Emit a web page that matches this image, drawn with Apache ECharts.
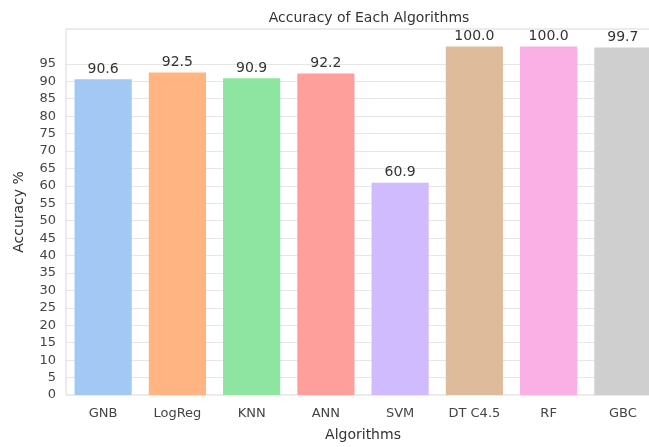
<!DOCTYPE html>
<html><head><meta charset="utf-8">
<script src="https://cdn.jsdelivr.net/npm/echarts@6/dist/echarts.min.js"></script>
<style>html,body{margin:0;padding:0;background:#fff;overflow:hidden;width:649px;height:447px}
#wrap{position:relative;width:649px;height:447px;overflow:hidden}
#c{position:absolute;left:0;top:0;width:662px;height:447px}</style>
</head><body><div id="wrap"><div id="c"></div></div>
<script>
const categories = ["GNB","LogReg","KNN","ANN","SVM","DT C4.5","RF","GBC"];
const accuracy = [90.6, 92.5, 90.9, 92.2, 60.9, 100.0, 100.0, 99.7];
const barColors = ["#a1c9f4","#ffb482","#8de5a1","#ff9f9b","#d0bbff","#debb9b","#fab0e4","#cfcfcf"];
const yMax = 105;
const yStep = 5;
const lastTick = 95;

const font = "DejaVu Sans";
const gridColors = [];
for (let v = 0; v <= yMax; v += yStep) gridColors.push(v <= lastTick && v > 0 ? "#e6e6e6" : "rgba(0,0,0,0)");

const chart = echarts.init(document.getElementById('c'), null, {renderer:'canvas'});
chart.setOption({
  animation:false,
  backgroundColor:'#fff',
  title:{text:'Accuracy of Each Algorithms', left:364, top:6, textAlign:'center',
    textStyle:{fontFamily:font, fontSize:14, fontWeight:'normal', color:'#333'}},
  grid:{left:66, top:29, width:594, height:368, show:true, borderColor:'#d8d8d8', borderWidth:1, backgroundColor:'#fff'},
  xAxis:{type:'category', data:categories,
    name:'Algorithms', nameLocation:'middle', nameGap:33,
    nameTextStyle:{fontFamily:font, fontSize:14, color:'#333'},
    axisLine:{show:false}, axisTick:{show:false},
    axisLabel:{fontFamily:font, fontSize:13, color:'#444', margin:12}},
  yAxis:{type:'value', min:0, max:yMax, interval:yStep,
    name:'Accuracy %', nameLocation:'middle', nameGap:40,
    nameTextStyle:{fontFamily:font, fontSize:14, color:'#333'},
    axisLine:{show:false}, axisTick:{show:false},
    axisLabel:{fontFamily:font, fontSize:13, color:'#444', margin:10,
      formatter:v => v <= lastTick ? String(v) : ''},
    splitLine:{show:true, lineStyle:{color:gridColors, width:1}}},
  series:[{type:'bar', barWidth:'77%',
    data:accuracy.map((v,i)=>({value:v, itemStyle:{color:barColors[i]}})),
    label:{show:true, position:'top', distance:3, fontFamily:font, fontSize:14, color:'#333',
      formatter:p => p.value.toFixed(1)}}]
});
</script></body></html>
